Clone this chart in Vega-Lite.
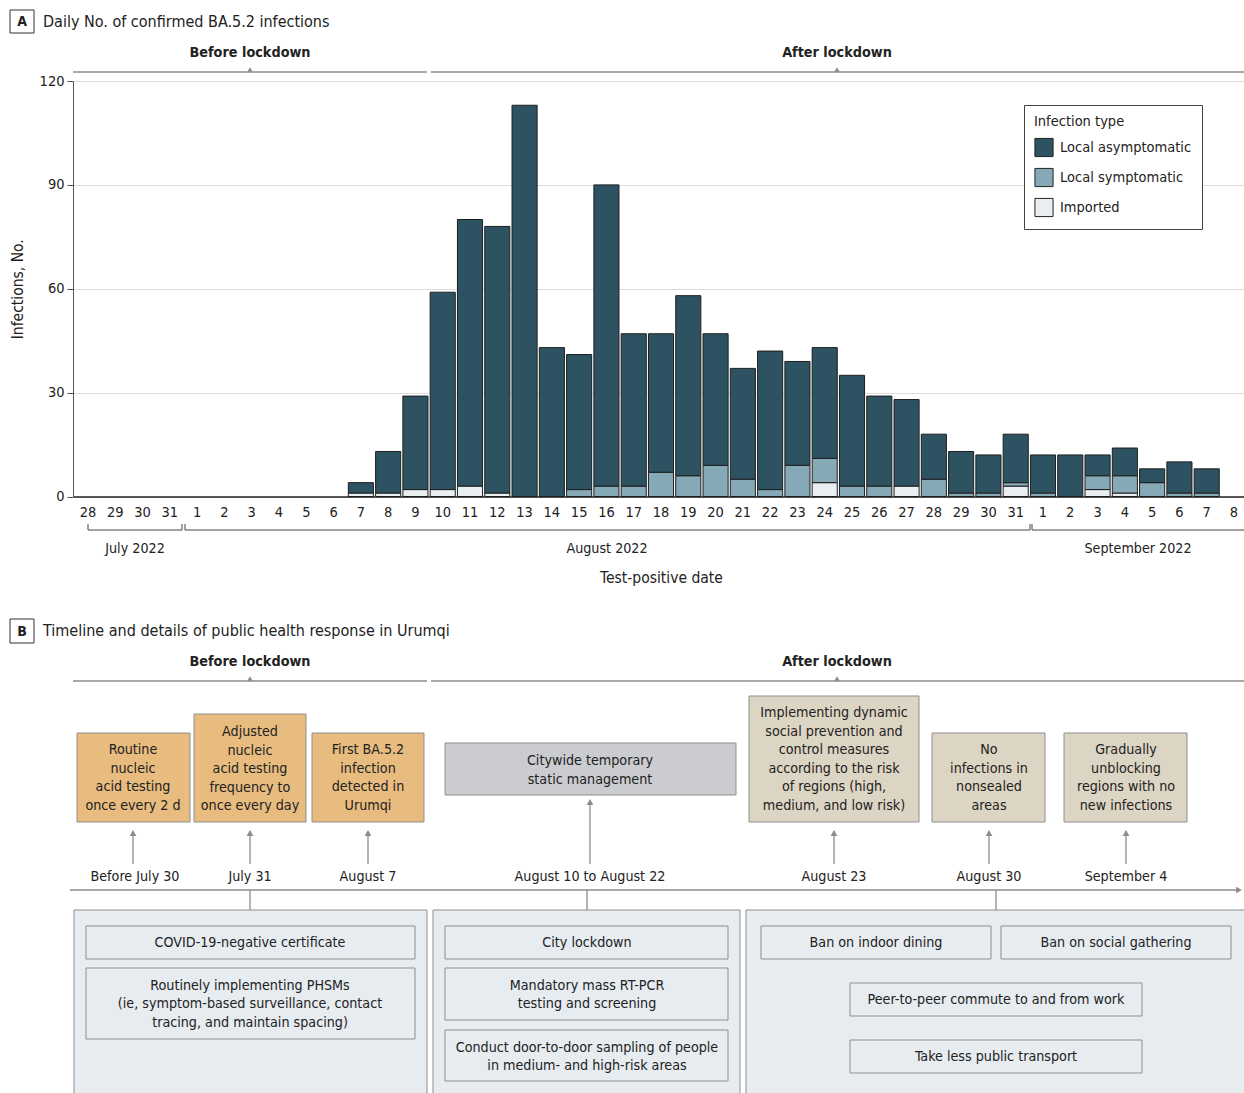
{
  "$schema": "https://vega.github.io/schema/vega-lite/v6.json",
  "width": 1171,
  "height": 415.5,
  "autosize": {"type": "none"},
  "padding": {"left": 73, "top": 81, "right": 0, "bottom": 596.5},
  "config": {
    "view": {"stroke": null},
    "font": "Liberation Sans Narrow, DejaVu Sans Condensed, sans-serif"
  },
  "datasets": {
    "cases": [
      {"date": "2022-08-07", "type": "Imported", "n": 1},
      {"date": "2022-08-07", "type": "Local asymptomatic", "n": 3},
      {"date": "2022-08-08", "type": "Imported", "n": 1},
      {"date": "2022-08-08", "type": "Local asymptomatic", "n": 12},
      {"date": "2022-08-09", "type": "Imported", "n": 2},
      {"date": "2022-08-09", "type": "Local asymptomatic", "n": 27},
      {"date": "2022-08-10", "type": "Imported", "n": 2},
      {"date": "2022-08-10", "type": "Local asymptomatic", "n": 57},
      {"date": "2022-08-11", "type": "Imported", "n": 3},
      {"date": "2022-08-11", "type": "Local asymptomatic", "n": 77},
      {"date": "2022-08-12", "type": "Imported", "n": 1},
      {"date": "2022-08-12", "type": "Local asymptomatic", "n": 77},
      {"date": "2022-08-13", "type": "Local asymptomatic", "n": 113},
      {"date": "2022-08-14", "type": "Local asymptomatic", "n": 43},
      {"date": "2022-08-15", "type": "Local symptomatic", "n": 2},
      {"date": "2022-08-15", "type": "Local asymptomatic", "n": 39},
      {"date": "2022-08-16", "type": "Local symptomatic", "n": 3},
      {"date": "2022-08-16", "type": "Local asymptomatic", "n": 87},
      {"date": "2022-08-17", "type": "Local symptomatic", "n": 3},
      {"date": "2022-08-17", "type": "Local asymptomatic", "n": 44},
      {"date": "2022-08-18", "type": "Local symptomatic", "n": 7},
      {"date": "2022-08-18", "type": "Local asymptomatic", "n": 40},
      {"date": "2022-08-19", "type": "Local symptomatic", "n": 6},
      {"date": "2022-08-19", "type": "Local asymptomatic", "n": 52},
      {"date": "2022-08-20", "type": "Local symptomatic", "n": 9},
      {"date": "2022-08-20", "type": "Local asymptomatic", "n": 38},
      {"date": "2022-08-21", "type": "Local symptomatic", "n": 5},
      {"date": "2022-08-21", "type": "Local asymptomatic", "n": 32},
      {"date": "2022-08-22", "type": "Local symptomatic", "n": 2},
      {"date": "2022-08-22", "type": "Local asymptomatic", "n": 40},
      {"date": "2022-08-23", "type": "Local symptomatic", "n": 9},
      {"date": "2022-08-23", "type": "Local asymptomatic", "n": 30},
      {"date": "2022-08-24", "type": "Imported", "n": 4},
      {"date": "2022-08-24", "type": "Local symptomatic", "n": 7},
      {"date": "2022-08-24", "type": "Local asymptomatic", "n": 32},
      {"date": "2022-08-25", "type": "Local symptomatic", "n": 3},
      {"date": "2022-08-25", "type": "Local asymptomatic", "n": 32},
      {"date": "2022-08-26", "type": "Local symptomatic", "n": 3},
      {"date": "2022-08-26", "type": "Local asymptomatic", "n": 26},
      {"date": "2022-08-27", "type": "Imported", "n": 3},
      {"date": "2022-08-27", "type": "Local asymptomatic", "n": 25},
      {"date": "2022-08-28", "type": "Local symptomatic", "n": 5},
      {"date": "2022-08-28", "type": "Local asymptomatic", "n": 13},
      {"date": "2022-08-29", "type": "Local symptomatic", "n": 1},
      {"date": "2022-08-29", "type": "Local asymptomatic", "n": 12},
      {"date": "2022-08-30", "type": "Local symptomatic", "n": 1},
      {"date": "2022-08-30", "type": "Local asymptomatic", "n": 11},
      {"date": "2022-08-31", "type": "Imported", "n": 3},
      {"date": "2022-08-31", "type": "Local symptomatic", "n": 1},
      {"date": "2022-08-31", "type": "Local asymptomatic", "n": 14},
      {"date": "2022-09-01", "type": "Local symptomatic", "n": 1},
      {"date": "2022-09-01", "type": "Local asymptomatic", "n": 11},
      {"date": "2022-09-02", "type": "Local asymptomatic", "n": 12},
      {"date": "2022-09-03", "type": "Imported", "n": 2},
      {"date": "2022-09-03", "type": "Local symptomatic", "n": 4},
      {"date": "2022-09-03", "type": "Local asymptomatic", "n": 6},
      {"date": "2022-09-04", "type": "Imported", "n": 1},
      {"date": "2022-09-04", "type": "Local symptomatic", "n": 5},
      {"date": "2022-09-04", "type": "Local asymptomatic", "n": 8},
      {"date": "2022-09-05", "type": "Local symptomatic", "n": 4},
      {"date": "2022-09-05", "type": "Local asymptomatic", "n": 4},
      {"date": "2022-09-06", "type": "Local symptomatic", "n": 1},
      {"date": "2022-09-06", "type": "Local asymptomatic", "n": 9},
      {"date": "2022-09-07", "type": "Local symptomatic", "n": 1},
      {"date": "2022-09-07", "type": "Local asymptomatic", "n": 7}
    ],
    "frames": [
      {"kind": "panel", "x": 74, "x2": 427, "y": 910, "y2": 1100},
      {"kind": "panel", "x": 433, "x2": 740, "y": 910, "y2": 1100},
      {"kind": "panel", "x": 746, "x2": 1250, "y": 910, "y2": 1100},
      {"kind": "item", "x": 86, "x2": 415, "y": 926, "y2": 959},
      {"kind": "item", "x": 86, "x2": 415, "y": 968, "y2": 1039},
      {"kind": "item", "x": 445, "x2": 728, "y": 926, "y2": 959},
      {"kind": "item", "x": 445, "x2": 728, "y": 968, "y2": 1020},
      {"kind": "item", "x": 445, "x2": 728, "y": 1030, "y2": 1081},
      {"kind": "item", "x": 761, "x2": 991, "y": 926, "y2": 959},
      {"kind": "item", "x": 1001, "x2": 1231, "y": 926, "y2": 959},
      {"kind": "item", "x": 850, "x2": 1142, "y": 983, "y2": 1016},
      {"kind": "item", "x": 850, "x2": 1142, "y": 1040, "y2": 1073},
      {"kind": "before", "x": 77, "x2": 190, "y": 733, "y2": 822},
      {"kind": "before", "x": 194, "x2": 306, "y": 714, "y2": 822},
      {"kind": "before", "x": 312, "x2": 424, "y": 733, "y2": 822},
      {"kind": "lockdown", "x": 445, "x2": 736, "y": 743, "y2": 795},
      {"kind": "after", "x": 749, "x2": 919, "y": 696, "y2": 822},
      {"kind": "after", "x": 932, "x2": 1045, "y": 733, "y2": 822},
      {"kind": "after", "x": 1064, "x2": 1187, "y": 733, "y2": 822}
    ],
    "letters": [
      {"x": 10, "x2": 34, "y": 10, "y2": 33},
      {"x": 10, "x2": 34, "y": 619, "y2": 643}
    ],
    "lines": [
      {"kind": "gray", "x": 73, "x2": 427, "y": 72, "y2": 72},
      {"kind": "gray", "x": 431, "x2": 1244, "y": 72, "y2": 72},
      {"kind": "gray", "x": 73, "x2": 427, "y": 681, "y2": 681},
      {"kind": "gray", "x": 431, "x2": 1244, "y": 681, "y2": 681},
      {"kind": "gray", "x": 133, "x2": 133, "y": 864, "y2": 834},
      {"kind": "gray", "x": 250, "x2": 250, "y": 864, "y2": 834},
      {"kind": "gray", "x": 368, "x2": 368, "y": 864, "y2": 834},
      {"kind": "gray", "x": 590, "x2": 590, "y": 864, "y2": 802},
      {"kind": "gray", "x": 834, "x2": 834, "y": 864, "y2": 834},
      {"kind": "gray", "x": 989, "x2": 989, "y": 864, "y2": 834},
      {"kind": "gray", "x": 1126, "x2": 1126, "y": 864, "y2": 834},
      {"kind": "gray", "x": 70, "x2": 1238, "y": 890, "y2": 890},
      {"kind": "gray", "x": 250, "x2": 250, "y": 890, "y2": 910},
      {"kind": "gray", "x": 587, "x2": 587, "y": 890, "y2": 910},
      {"kind": "gray", "x": 996, "x2": 996, "y": 890, "y2": 910},
      {"kind": "month", "x": 88, "x2": 182, "y": 530, "y2": 530},
      {"kind": "month", "x": 88, "x2": 88, "y": 524, "y2": 530},
      {"kind": "month", "x": 182, "x2": 182, "y": 524, "y2": 530},
      {"kind": "month", "x": 185, "x2": 1030, "y": 530, "y2": 530},
      {"kind": "month", "x": 185, "x2": 185, "y": 524, "y2": 530},
      {"kind": "month", "x": 1030, "x2": 1030, "y": 524, "y2": 530},
      {"kind": "month", "x": 1032, "x2": 1244, "y": 530, "y2": 530},
      {"kind": "month", "x": 1032, "x2": 1032, "y": 524, "y2": 530}
    ],
    "marks": [
      {"kind": "bracket", "dir": "up", "x": 250, "y": 69.5},
      {"kind": "bracket", "dir": "up", "x": 837, "y": 69.5},
      {"kind": "bracket", "dir": "up", "x": 250, "y": 678.5},
      {"kind": "bracket", "dir": "up", "x": 837, "y": 678.5},
      {"kind": "arrow", "dir": "up", "x": 133, "y": 833},
      {"kind": "arrow", "dir": "up", "x": 250, "y": 833},
      {"kind": "arrow", "dir": "up", "x": 368, "y": 833},
      {"kind": "arrow", "dir": "up", "x": 590, "y": 802},
      {"kind": "arrow", "dir": "up", "x": 834, "y": 833},
      {"kind": "arrow", "dir": "up", "x": 989, "y": 833},
      {"kind": "arrow", "dir": "up", "x": 1126, "y": 833},
      {"kind": "arrow", "dir": "right", "x": 1239, "y": 890}
    ],
    "texts": [
      {"role": "letter", "x": 22, "y": 22, "text": "A"},
      {"role": "letter", "x": 22, "y": 631.5, "text": "B"},
      {"role": "title", "x": 43, "y": 22, "text": "Daily No. of confirmed BA.5.2 infections"},
      {"role": "title", "x": 43, "y": 631, "text": "Timeline and details of public health response in Urumqi"},
      {"role": "phase", "x": 250, "y": 53, "text": "Before lockdown"},
      {"role": "phase", "x": 837, "y": 53, "text": "After lockdown"},
      {"role": "phase", "x": 250, "y": 662, "text": "Before lockdown"},
      {"role": "phase", "x": 837, "y": 662, "text": "After lockdown"},
      {"role": "label", "x": 135, "y": 549, "text": "July 2022"},
      {"role": "label", "x": 607, "y": 549, "text": "August 2022"},
      {"role": "label", "x": 1138, "y": 549, "text": "September 2022"},
      {"role": "label", "x": 135, "y": 877, "text": "Before July 30"},
      {"role": "label", "x": 250, "y": 877, "text": "July 31"},
      {"role": "label", "x": 368, "y": 877, "text": "August 7"},
      {"role": "label", "x": 590, "y": 877, "text": "August 10 to August 22"},
      {"role": "label", "x": 834, "y": 877, "text": "August 23"},
      {"role": "label", "x": 989, "y": 877, "text": "August 30"},
      {"role": "label", "x": 1126, "y": 877, "text": "September 4"},
      {"role": "label", "x": 133, "y": 750, "text": "Routine\nnucleic\nacid testing\nonce every 2 d"},
      {"role": "label", "x": 250, "y": 732, "text": "Adjusted\nnucleic\nacid testing\nfrequency to\nonce every day"},
      {"role": "label", "x": 368, "y": 750, "text": "First BA.5.2\ninfection\ndetected in\nUrumqi"},
      {"role": "label", "x": 590, "y": 761, "text": "Citywide temporary\nstatic management"},
      {"role": "label", "x": 834, "y": 713, "text": "Implementing dynamic\nsocial prevention and\ncontrol measures\naccording to the risk\nof regions (high,\nmedium, and low risk)"},
      {"role": "label", "x": 989, "y": 750, "text": "No\ninfections in\nnonsealed\nareas"},
      {"role": "label", "x": 1126, "y": 750, "text": "Gradually\nunblocking\nregions with no\nnew infections"},
      {"role": "label", "x": 250, "y": 942.5, "text": "COVID-19-negative certificate"},
      {"role": "label", "x": 250, "y": 985.5, "text": "Routinely implementing PHSMs\n(ie, symptom-based surveillance, contact\ntracing, and maintain spacing)"},
      {"role": "label", "x": 587, "y": 942.5, "text": "City lockdown"},
      {"role": "label", "x": 587, "y": 985.5, "text": "Mandatory mass RT-PCR\ntesting and screening"},
      {"role": "label", "x": 587, "y": 1047.5, "text": "Conduct door-to-door sampling of people\nin medium- and high-risk areas"},
      {"role": "label", "x": 876, "y": 942.5, "text": "Ban on indoor dining"},
      {"role": "label", "x": 1116, "y": 942.5, "text": "Ban on social gathering"},
      {"role": "label", "x": 996, "y": 999.5, "text": "Peer-to-peer commute to and from work"},
      {"role": "label", "x": 996, "y": 1056.5, "text": "Take less public transport"}
    ]
  },
  "layer": [
    {
      "data": {"name": "cases"},
      "transform": [
        {"calculate": "indexof(['Imported', 'Local symptomatic', 'Local asymptomatic'], datum.type)", "as": "stackOrder"}
      ],
      "mark": {"type": "bar", "stroke": "#1e1e1e", "strokeWidth": 1},
      "encoding": {
        "x": {
          "field": "date",
          "type": "ordinal",
          "scale": {
            "domain": ["2022-07-28", "2022-07-29", "2022-07-30", "2022-07-31", "2022-08-01", "2022-08-02", "2022-08-03", "2022-08-04", "2022-08-05", "2022-08-06", "2022-08-07", "2022-08-08", "2022-08-09", "2022-08-10", "2022-08-11", "2022-08-12", "2022-08-13", "2022-08-14", "2022-08-15", "2022-08-16", "2022-08-17", "2022-08-18", "2022-08-19", "2022-08-20", "2022-08-21", "2022-08-22", "2022-08-23", "2022-08-24", "2022-08-25", "2022-08-26", "2022-08-27", "2022-08-28", "2022-08-29", "2022-08-30", "2022-08-31", "2022-09-01", "2022-09-02", "2022-09-03", "2022-09-04", "2022-09-05", "2022-09-06", "2022-09-07", "2022-09-08"],
            "range": [0, 1176],
            "paddingInner": 0.08,
            "paddingOuter": 0.09
          },
          "axis": {
            "title": "Test-positive date",
            "labelExpr": "toNumber(slice(datum.label, 8))",
            "labelAngle": 0,
            "labelOverlap": false,
            "ticks": false,
            "grid": false,
            "labelPadding": 9,
            "labelFontSize": 14.5,
            "labelColor": "#222",
            "domainColor": "#222",
            "domainWidth": 1.5,
            "titleFontSize": 15.5,
            "titleFontWeight": "normal",
            "titleColor": "#222",
            "titlePadding": 51
          }
        },
        "y": {
          "field": "n",
          "type": "quantitative",
          "scale": {"domain": [0, 120], "nice": false},
          "axis": {
            "title": "Infections, No.",
            "values": [0, 30, 60, 90, 120],
            "grid": true,
            "gridColor": "#dcdcdc",
            "domainColor": "#555",
            "tickColor": "#555",
            "tickSize": 6,
            "labelPadding": 3,
            "labelFontSize": 14.5,
            "labelColor": "#222",
            "titleFontSize": 15.5,
            "titleFontWeight": "normal",
            "titleColor": "#222",
            "titlePadding": 14
          }
        },
        "color": {
          "field": "type",
          "type": "nominal",
          "scale": {
            "domain": ["Local asymptomatic", "Local symptomatic", "Imported"],
            "range": ["#2d5261", "#86a9b7", "#e8eef1"]
          },
          "legend": {
            "title": "Infection type",
            "orient": "none",
            "legendX": 951,
            "legendY": 24,
            "direction": "vertical",
            "padding": 10,
            "strokeColor": "#444",
            "fillColor": "white",
            "symbolType": "square",
            "symbolSize": 330,
            "symbolStrokeColor": "#222",
            "symbolStrokeWidth": 1,
            "labelFontSize": 14.5,
            "labelColor": "#222",
            "labelOffset": 6,
            "titleFontSize": 14.5,
            "titleFontWeight": "normal",
            "titleColor": "#222",
            "titlePadding": 8,
            "rowPadding": 6
          }
        },
        "order": {"field": "stackOrder", "type": "quantitative"}
      }
    },
    {
      "layer": [
        {
          "data": {"name": "frames"},
          "mark": {"type": "rect", "stroke": "#8f8f8f", "strokeWidth": 1},
          "encoding": {
            "x": {"field": "x", "type": "quantitative", "scale": {"domain": [73, 1244], "nice": false, "zero": false}, "axis": null},
            "x2": {"field": "x2"},
            "y": {"field": "y", "type": "quantitative", "scale": {"domain": [81, 496.5], "nice": false, "zero": false, "reverse": true}, "axis": null},
            "y2": {"field": "y2"},
            "fill": {
              "field": "kind",
              "type": "nominal",
              "scale": {"domain": ["panel", "item", "before", "lockdown", "after"], "range": ["#e6ecf0", "#e6ecf0", "#e8bc7f", "#cacccf", "#ddd5c3"]},
              "legend": null
            }
          }
        },
        {
          "data": {"name": "letters"},
          "mark": {"type": "rect", "fill": "white", "stroke": "#333", "strokeWidth": 1},
          "encoding": {
            "x": {"field": "x", "type": "quantitative", "axis": null},
            "x2": {"field": "x2"},
            "y": {"field": "y", "type": "quantitative", "axis": null},
            "y2": {"field": "y2"}
          }
        },
        {
          "data": {"name": "lines"},
          "transform": [{"filter": "datum.kind === 'gray'"}],
          "mark": {"type": "rule", "color": "#8c8c8c", "strokeWidth": 1.3},
          "encoding": {
            "x": {"field": "x", "type": "quantitative", "axis": null},
            "x2": {"field": "x2"},
            "y": {"field": "y", "type": "quantitative", "axis": null},
            "y2": {"field": "y2"}
          }
        },
        {
          "data": {"name": "lines"},
          "transform": [{"filter": "datum.kind === 'month'"}],
          "mark": {"type": "rule", "color": "#444", "strokeWidth": 1},
          "encoding": {
            "x": {"field": "x", "type": "quantitative", "axis": null},
            "x2": {"field": "x2"},
            "y": {"field": "y", "type": "quantitative", "axis": null},
            "y2": {"field": "y2"}
          }
        },
        {
          "data": {"name": "marks"},
          "transform": [{"filter": "datum.kind === 'bracket'"}],
          "mark": {"type": "point", "filled": true, "color": "#8c8c8c", "opacity": 1, "size": 28, "shape": "triangle-up"},
          "encoding": {
            "x": {"field": "x", "type": "quantitative", "axis": null},
            "y": {"field": "y", "type": "quantitative", "axis": null}
          }
        },
        {
          "data": {"name": "marks"},
          "transform": [{"filter": "datum.kind === 'arrow'"}],
          "mark": {"type": "point", "filled": true, "color": "#8c8c8c", "opacity": 1, "size": 45},
          "encoding": {
            "x": {"field": "x", "type": "quantitative", "axis": null},
            "y": {"field": "y", "type": "quantitative", "axis": null},
            "shape": {
              "field": "dir",
              "type": "nominal",
              "scale": {"domain": ["up", "right"], "range": ["triangle-up", "triangle-right"]},
              "legend": null
            }
          }
        },
        {
          "data": {"name": "texts"},
          "transform": [{"filter": "datum.role === 'letter'"}],
          "mark": {"type": "text", "fontSize": 14, "fontWeight": "bold", "color": "#222", "align": "center", "baseline": "middle"},
          "encoding": {
            "x": {"field": "x", "type": "quantitative", "axis": null},
            "y": {"field": "y", "type": "quantitative", "axis": null},
            "text": {"field": "text", "type": "nominal"}
          }
        },
        {
          "data": {"name": "texts"},
          "transform": [{"filter": "datum.role === 'title'"}],
          "mark": {"type": "text", "fontSize": 16, "color": "#222", "align": "left", "baseline": "middle"},
          "encoding": {
            "x": {"field": "x", "type": "quantitative", "axis": null},
            "y": {"field": "y", "type": "quantitative", "axis": null},
            "text": {"field": "text", "type": "nominal"}
          }
        },
        {
          "data": {"name": "texts"},
          "transform": [{"filter": "datum.role === 'phase'"}],
          "mark": {"type": "text", "fontSize": 14.3, "fontWeight": "bold", "color": "#222", "align": "center", "baseline": "middle"},
          "encoding": {
            "x": {"field": "x", "type": "quantitative", "axis": null},
            "y": {"field": "y", "type": "quantitative", "axis": null},
            "text": {"field": "text", "type": "nominal"}
          }
        },
        {
          "data": {"name": "texts"},
          "transform": [{"filter": "datum.role === 'label'"}],
          "mark": {"type": "text", "fontSize": 14.2, "color": "#222", "align": "center", "baseline": "middle", "lineBreak": "\n", "lineHeight": 18.6},
          "encoding": {
            "x": {"field": "x", "type": "quantitative", "axis": null},
            "y": {"field": "y", "type": "quantitative", "axis": null},
            "text": {"field": "text", "type": "nominal"}
          }
        }
      ]
    }
  ],
  "resolve": {"scale": {"x": "independent", "y": "independent"}}
}
